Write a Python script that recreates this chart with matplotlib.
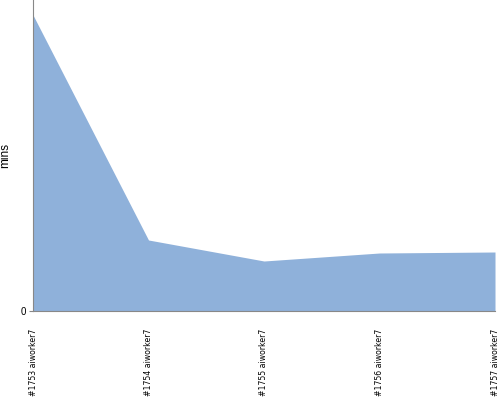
import matplotlib.pyplot as plt

builds = ['#1753 aiworker7', '#1754 aiworker7', '#1755 aiworker7',
          '#1756 aiworker7', '#1757 aiworker7']
mins = [29.6, 7.1, 5.0, 5.8, 5.9]

fig = plt.figure(figsize=(5, 4), dpi=100)
ax = fig.add_axes([0.066, 0.2225, 0.924, 0.7775])

x = list(range(len(builds)))
ax.fill_between(x, mins, 0, color='#8fb1da', linewidth=0)
ax.set_xlim(0, len(builds) - 1)
ax.set_ylim(0, 31.1)

ax.set_yticks([0])
ax.set_yticklabels(['0'], fontsize=7, family='Liberation Sans')
ax.set_xticks(x)
ax.set_xticklabels(builds, rotation=90, fontsize=5.6, family='Liberation Sans Narrow')
ax.tick_params(axis='x', length=0, pad=13)
ax.tick_params(axis='y', length=3, color='#888888', pad=2)
ax.set_ylabel('mins', fontsize=8.5, family='Liberation Sans')
ax.yaxis.set_label_coords(-0.048, 0.5)

for s in ['top', 'right']:
    ax.spines[s].set_visible(False)
for s in ['left', 'bottom']:
    ax.spines[s].set_color('#888888')
    ax.spines[s].set_linewidth(0.8)

plt.savefig('out.png')
